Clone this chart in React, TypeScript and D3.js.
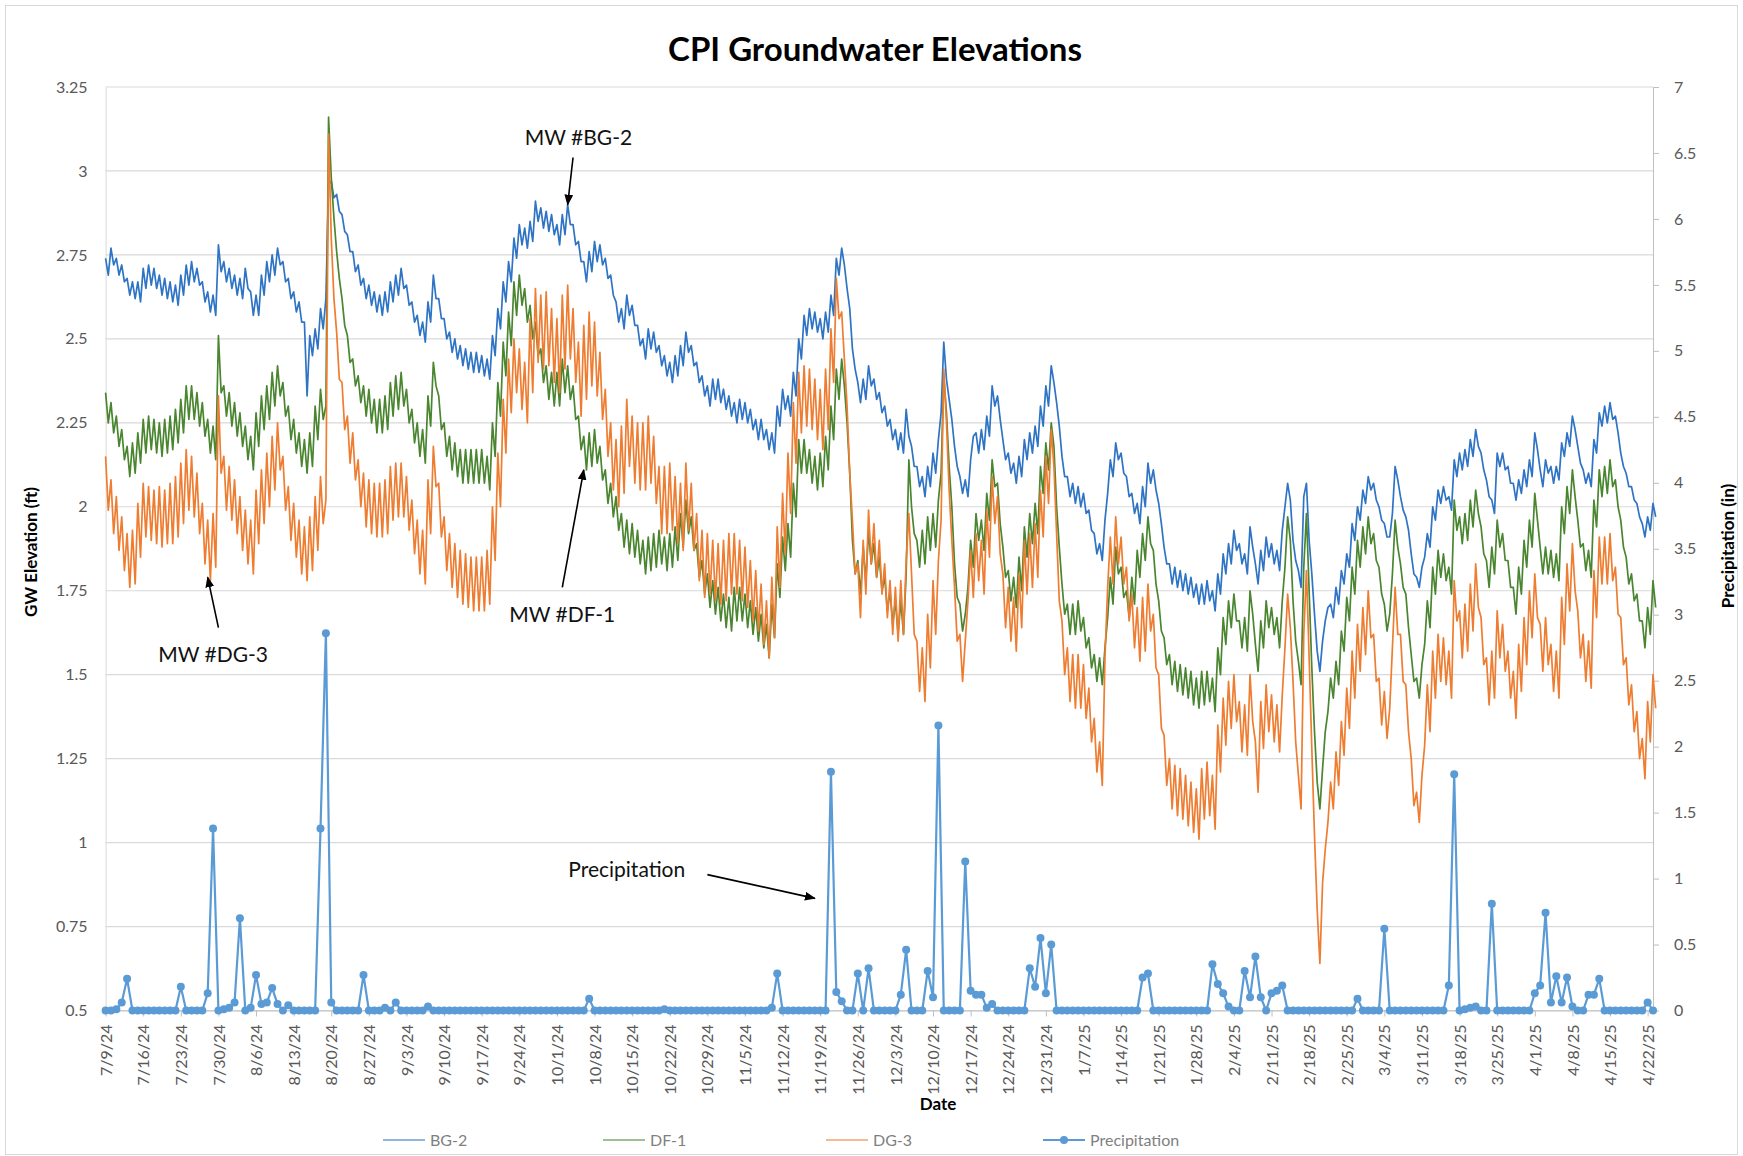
import * as d3 from "d3";
import { useEffect, useRef } from "react";

// chart size
const W = 1743;
const H = 1156;
const font = "Lato, 'Open Sans', sans-serif";

// x axis: one label per week
const tickLabels = [
  "7/9/24", "7/16/24", "7/23/24", "7/30/24", "8/6/24", "8/13/24", "8/20/24", "8/27/24",
  "9/3/24", "9/10/24", "9/17/24", "9/24/24", "10/1/24", "10/8/24", "10/15/24", "10/22/24",
  "10/29/24", "11/5/24", "11/12/24", "11/19/24", "11/26/24", "12/3/24", "12/10/24", "12/17/24",
  "12/24/24", "12/31/24", "1/7/25", "1/14/25", "1/21/25", "1/28/25", "2/4/25", "2/11/25",
  "2/18/25", "2/25/25", "3/4/25", "3/11/25", "3/18/25", "3/25/25", "4/1/25", "4/8/25",
  "4/15/25", "4/22/25",
];
const firstDay = "7/9/24";
const lastDay = "4/23/25";

const leftTicks = [0.5, 0.75, 1, 1.25, 1.5, 1.75, 2, 2.25, 2.5, 2.75, 3, 3.25];
const rightTicks = [0, 0.5, 1, 1.5, 2, 2.5, 3, 3.5, 4, 4.5, 5, 5.5, 6, 6.5, 7];

// daily precipitation (in), from 7/9/24
const precipitation = [
  0, 0, 0.01, 0.06, 0.24, 0, 0,
  0, 0, 0, 0, 0, 0, 0,
  0.18, 0, 0, 0, 0, 0.13, 1.38,
  0, 0.01, 0.02, 0.06, 0.7, 0, 0.02,
  0.27, 0.05, 0.06, 0.17, 0.05, 0, 0.04,
  0, 0, 0, 0, 0, 1.38, 2.86,
  0.06, 0, 0, 0, 0, 0, 0.27,
  0, 0, 0, 0.02, 0, 0.06, 0,
  0, 0, 0, 0, 0.03, 0, 0,
  0, 0, 0, 0, 0, 0, 0,
  0, 0, 0, 0, 0, 0, 0,
  0, 0, 0, 0, 0, 0, 0,
  0, 0, 0, 0, 0, 0, 0.09,
  0, 0, 0, 0, 0, 0, 0,
  0, 0, 0, 0, 0, 0, 0.01,
  0, 0, 0, 0, 0, 0, 0,
  0, 0, 0, 0, 0, 0, 0,
  0, 0, 0, 0, 0, 0.02, 0.28,
  0, 0, 0, 0, 0, 0, 0,
  0, 0, 1.81, 0.14, 0.07, 0, 0,
  0.28, 0, 0.32, 0, 0, 0, 0,
  0, 0.12, 0.46, 0, 0, 0, 0.3,
  0.1, 2.16, 0, 0, 0, 0, 1.13,
  0.15, 0.12, 0.12, 0.02, 0.05, 0, 0,
  0, 0, 0, 0, 0.32, 0.18, 0.55,
  0.13, 0.5, 0, 0, 0, 0, 0,
  0, 0, 0, 0, 0, 0, 0,
  0, 0, 0, 0, 0.25, 0.28, 0,
  0, 0, 0, 0, 0, 0, 0,
  0, 0, 0, 0.35, 0.2, 0.13, 0.03,
  0, 0, 0.3, 0.1, 0.41, 0.1, 0,
  0.13, 0.15, 0.19, 0, 0, 0, 0,
  0, 0, 0, 0, 0, 0, 0,
  0, 0, 0.09, 0, 0, 0, 0,
  0.62, 0, 0, 0, 0, 0, 0,
  0, 0, 0, 0, 0, 0.19, 1.79,
  0, 0.01, 0.02, 0.03, 0, 0, 0.81,
  0, 0, 0, 0, 0, 0, 0,
  0.13, 0.19, 0.74, 0.06, 0.26, 0.06, 0.25,
  0.03, 0, 0, 0.12, 0.12, 0.24, 0,
  0, 0, 0, 0, 0, 0, 0,
  0.06, 0,
];

// 12-hourly groundwater elevations (ft), from 7/9/24 00:00
const bg2 = [
  2.74, 2.69, 2.77, 2.72, 2.74, 2.69, 2.72, 2.67, 2.68, 2.63, 2.67, 2.62, 2.67, 2.61,
  2.71, 2.65, 2.72, 2.66, 2.71, 2.65, 2.69, 2.63, 2.68, 2.62, 2.67, 2.61, 2.66, 2.6,
  2.69, 2.63, 2.72, 2.66, 2.73, 2.67, 2.71, 2.66, 2.67, 2.61, 2.64, 2.58, 2.63, 2.57,
  2.78, 2.7, 2.73, 2.67, 2.71, 2.65, 2.69, 2.63, 2.68, 2.62, 2.71, 2.65, 2.64, 2.57,
  2.63, 2.57, 2.69, 2.63, 2.73, 2.67, 2.75, 2.69, 2.77, 2.72, 2.73, 2.67, 2.68, 2.62,
  2.64, 2.58, 2.61, 2.55, 2.55, 2.33, 2.51, 2.45, 2.53, 2.47, 2.59, 2.53, 2.62, 2.96,
  2.97, 2.92, 2.93, 2.88, 2.87, 2.82, 2.81, 2.76, 2.76, 2.7, 2.72, 2.66, 2.68, 2.62,
  2.66, 2.6, 2.64, 2.58, 2.63, 2.57, 2.64, 2.58, 2.67, 2.61, 2.69, 2.63, 2.71, 2.65,
  2.66, 2.6, 2.61, 2.55, 2.57, 2.51, 2.55, 2.49, 2.61, 2.55, 2.69, 2.62, 2.62, 2.56,
  2.56, 2.5, 2.52, 2.46, 2.5, 2.44, 2.48, 2.42, 2.47, 2.41, 2.46, 2.4, 2.46, 2.4,
  2.45, 2.39, 2.44, 2.38, 2.51, 2.45, 2.59, 2.53, 2.67, 2.61, 2.73, 2.67, 2.8, 2.74,
  2.84, 2.78, 2.83, 2.77, 2.85, 2.79, 2.91, 2.85, 2.89, 2.83, 2.88, 2.82, 2.87, 2.81,
  2.84, 2.78, 2.87, 2.81, 2.9, 2.84, 2.84, 2.78, 2.79, 2.73, 2.73, 2.67, 2.76, 2.7,
  2.79, 2.73, 2.78, 2.72, 2.74, 2.68, 2.69, 2.63, 2.61, 2.55, 2.59, 2.53, 2.63, 2.57,
  2.6, 2.54, 2.54, 2.48, 2.5, 2.44, 2.53, 2.47, 2.52, 2.46, 2.48, 2.42, 2.45, 2.39,
  2.43, 2.37, 2.45, 2.39, 2.48, 2.42, 2.52, 2.46, 2.48, 2.42, 2.43, 2.37, 2.39, 2.33,
  2.36, 2.3, 2.38, 2.32, 2.38, 2.31, 2.35, 2.29, 2.33, 2.27, 2.31, 2.25, 2.32, 2.26,
  2.31, 2.25, 2.29, 2.23, 2.26, 2.2, 2.26, 2.2, 2.23, 2.17, 2.22, 2.16, 2.3, 2.24,
  2.35, 2.29, 2.33, 2.27, 2.4, 2.33, 2.5, 2.44, 2.57, 2.51, 2.59, 2.53, 2.58, 2.52,
  2.56, 2.5, 2.58, 2.52, 2.63, 2.57, 2.74, 2.69, 2.77, 2.72, 2.65, 2.59, 2.47, 2.41,
  2.37, 2.31, 2.38, 2.32, 2.42, 2.36, 2.38, 2.32, 2.34, 2.28, 2.3, 2.24, 2.26, 2.2,
  2.23, 2.17, 2.22, 2.16, 2.29, 2.21, 2.18, 2.12, 2.12, 2.06, 2.09, 2.03, 2.12, 2.06,
  2.16, 2.1, 2.2, 2.28, 2.49, 2.38, 2.32, 2.26, 2.18, 2.12, 2.09, 2.04, 2.08, 2.03,
  2.14, 2.21, 2.22, 2.16, 2.23, 2.17, 2.27, 2.21, 2.36, 2.3, 2.33, 2.26, 2.2, 2.14,
  2.16, 2.1, 2.13, 2.07, 2.15, 2.09, 2.2, 2.14, 2.22, 2.16, 2.24, 2.18, 2.3, 2.24,
  2.36, 2.3, 2.42, 2.37, 2.31, 2.24, 2.15, 2.09, 2.09, 2.03, 2.07, 2.01, 2.06, 2.0,
  2.04, 1.98, 1.99, 1.93, 1.92, 1.86, 1.89, 1.84, 1.96, 2.04, 2.14, 2.09, 2.19, 2.14,
  2.16, 2.1, 2.09, 2.03, 2.04, 1.98, 2.01, 1.95, 2.06, 2.0, 2.13, 2.07, 2.11, 2.05,
  2.01, 1.95, 1.88, 1.83, 1.83, 1.77, 1.82, 1.76, 1.81, 1.75, 1.8, 1.74, 1.79, 1.73,
  1.77, 1.71, 1.77, 1.71, 1.78, 1.72, 1.75, 1.69, 1.8, 1.74, 1.86, 1.8, 1.89, 1.83,
  1.93, 1.87, 1.89, 1.83, 1.86, 1.8, 1.94, 1.88, 1.83, 1.77, 1.87, 1.81, 1.91, 1.85,
  1.89, 1.83, 1.87, 1.81, 1.93, 2.0, 2.07, 2.02, 1.9, 1.84, 1.81, 1.76, 2.03, 2.07,
  1.9, 1.8, 1.68, 1.57, 1.51, 1.6, 1.66, 1.7, 1.71, 1.67, 1.76, 1.71, 1.81, 1.77,
  1.86, 1.82, 1.95, 1.9, 2.0, 1.96, 2.05, 2.01, 2.09, 2.05, 2.07, 2.02, 2.0, 1.96,
  1.95, 1.91, 1.91, 1.98, 2.12, 2.08, 2.03, 1.99, 1.97, 1.93, 1.86, 1.8, 1.79, 1.76,
  1.82, 1.85, 1.92, 1.88, 2.0, 1.96, 2.05, 2.01, 2.06, 2.02, 2.03, 1.99, 2.14, 2.09,
  2.16, 2.11, 2.17, 2.12, 2.2, 2.15, 2.23, 2.18, 2.16, 2.11, 2.08, 2.03, 2.02, 1.98,
  2.16, 2.12, 2.16, 2.11, 2.12, 2.07, 2.07, 2.02, 2.08, 2.04, 2.11, 2.06, 2.14, 2.09,
  2.22, 2.17, 2.11, 2.06, 2.14, 2.1, 2.12, 2.07, 2.12, 2.08, 2.19, 2.15, 2.22, 2.18,
  2.27, 2.23, 2.18, 2.13, 2.11, 2.07, 2.1, 2.06, 2.2, 2.16, 2.28, 2.24, 2.3, 2.25,
  2.31, 2.26, 2.27, 2.22, 2.16, 2.12, 2.1, 2.06, 2.06, 2.02, 2.01, 1.97, 1.95, 1.91,
  1.97, 1.93, 2.01, 1.97,
];

const df1 = [
  2.34, 2.25, 2.31, 2.22, 2.27, 2.18, 2.23, 2.14, 2.18, 2.09, 2.19, 2.1, 2.22, 2.13,
  2.26, 2.16, 2.27, 2.17, 2.26, 2.16, 2.25, 2.15, 2.26, 2.16, 2.27, 2.17, 2.29, 2.19,
  2.32, 2.22, 2.36, 2.26, 2.36, 2.26, 2.34, 2.24, 2.31, 2.21, 2.26, 2.16, 2.24, 2.14,
  2.51, 2.34, 2.36, 2.27, 2.34, 2.24, 2.31, 2.21, 2.28, 2.18, 2.24, 2.14, 2.21, 2.11,
  2.28, 2.18, 2.33, 2.23, 2.36, 2.26, 2.4, 2.3, 2.42, 2.33, 2.37, 2.27, 2.3, 2.2,
  2.26, 2.16, 2.22, 2.12, 2.2, 2.1, 2.22, 2.12, 2.3, 2.2, 2.35, 2.26, 2.3, 3.16,
  2.98, 2.86, 2.76, 2.68, 2.62, 2.54, 2.51, 2.43, 2.44, 2.36, 2.39, 2.31, 2.36, 2.27,
  2.35, 2.25, 2.32, 2.22, 2.32, 2.22, 2.33, 2.23, 2.37, 2.27, 2.39, 2.29, 2.4, 2.3,
  2.35, 2.25, 2.29, 2.19, 2.25, 2.15, 2.23, 2.13, 2.33, 2.24, 2.43, 2.36, 2.33, 2.23,
  2.25, 2.15, 2.21, 2.11, 2.19, 2.09, 2.17, 2.07, 2.17, 2.07, 2.17, 2.07, 2.17, 2.07,
  2.17, 2.07, 2.15, 2.05, 2.25, 2.15, 2.37, 2.27, 2.49, 2.39, 2.58, 2.48, 2.67, 2.57,
  2.69, 2.6, 2.65, 2.55, 2.6, 2.5, 2.55, 2.45, 2.47, 2.37, 2.42, 2.32, 2.4, 2.3,
  2.4, 2.3, 2.44, 2.34, 2.42, 2.32, 2.36, 2.26, 2.27, 2.17, 2.21, 2.11, 2.22, 2.12,
  2.23, 2.13, 2.18, 2.08, 2.11, 2.01, 2.07, 1.97, 2.03, 1.93, 1.98, 1.88, 1.96, 1.86,
  1.95, 1.85, 1.93, 1.83, 1.9, 1.8, 1.91, 1.81, 1.92, 1.82, 1.93, 1.83, 1.91, 1.81,
  1.92, 1.82, 1.94, 1.84, 1.98, 1.88, 2.02, 1.92, 1.97, 1.87, 1.89, 1.79, 1.84, 1.74,
  1.8, 1.7, 1.78, 1.68, 1.76, 1.66, 1.74, 1.64, 1.73, 1.63, 1.76, 1.66, 1.76, 1.66,
  1.74, 1.64, 1.72, 1.62, 1.7, 1.6, 1.68, 1.58, 1.65, 1.55, 1.71, 1.61, 1.83, 1.73,
  1.91, 1.81, 1.95, 1.85, 2.07, 1.97, 2.2, 2.1, 2.2, 2.1, 2.17, 2.07, 2.15, 2.05,
  2.16, 2.06, 2.21, 2.11, 2.3, 2.2, 2.41, 2.32, 2.44, 2.36, 2.25, 2.1, 1.9, 1.8,
  1.84, 1.74, 1.88, 1.78, 1.93, 1.83, 1.89, 1.79, 1.85, 1.75, 1.79, 1.69, 1.75, 1.65,
  1.72, 1.62, 1.72, 1.62, 1.8, 2.14, 2.0, 1.92, 1.9, 1.82, 1.93, 1.83, 1.97, 1.87,
  1.98, 1.88, 2.02, 2.1, 2.39, 2.28, 2.12, 2.0, 1.83, 1.73, 1.71, 1.63, 1.68, 1.76,
  1.9, 1.82, 1.98, 1.9, 1.96, 1.87, 2.04, 1.96, 2.14, 2.06, 2.07, 1.95, 1.88, 1.79,
  1.81, 1.72, 1.79, 1.7, 1.85, 1.75, 1.94, 1.85, 1.98, 1.89, 2.01, 1.92, 2.12, 2.04,
  2.19, 2.11, 2.25, 2.18, 2.0, 1.88, 1.77, 1.68, 1.71, 1.62, 1.71, 1.62, 1.72, 1.63,
  1.67, 1.58, 1.61, 1.52, 1.56, 1.48, 1.55, 1.47, 1.58, 1.67, 1.79, 1.71, 1.88, 1.8,
  1.82, 1.73, 1.75, 1.67, 1.79, 1.71, 1.87, 1.79, 1.92, 1.84, 1.97, 1.89, 1.87, 1.77,
  1.72, 1.63, 1.61, 1.53, 1.56, 1.47, 1.54, 1.45, 1.53, 1.44, 1.52, 1.43, 1.51, 1.41,
  1.49, 1.4, 1.51, 1.41, 1.51, 1.42, 1.49, 1.39, 1.58, 1.5, 1.67, 1.59, 1.72, 1.64,
  1.74, 1.66, 1.66, 1.58, 1.67, 1.57, 1.75, 1.68, 1.59, 1.51, 1.66, 1.58, 1.72, 1.64,
  1.7, 1.62, 1.67, 1.58, 1.72, 1.82, 1.97, 1.9, 1.72, 1.6, 1.54, 1.47, 1.82, 1.98,
  1.75, 1.52, 1.33, 1.18, 1.1, 1.22, 1.33, 1.39, 1.49, 1.43, 1.54, 1.47, 1.63, 1.57,
  1.73, 1.66, 1.82, 1.74, 1.9, 1.82, 1.94, 1.86, 1.97, 1.89, 1.92, 1.84, 1.82, 1.74,
  1.71, 1.63, 1.68, 1.8, 1.96, 1.88, 1.83, 1.76, 1.74, 1.64, 1.56, 1.48, 1.49, 1.43,
  1.53, 1.59, 1.72, 1.64, 1.82, 1.74, 1.87, 1.79, 1.86, 1.78, 1.82, 1.74, 2.02, 1.93,
  1.97, 1.89, 1.98, 1.9, 2.02, 1.94, 2.05, 1.98, 1.94, 1.86, 1.84, 1.76, 1.88, 1.8,
  1.96, 1.88, 1.92, 1.84, 1.84, 1.76, 1.76, 1.68, 1.82, 1.74, 1.9, 1.82, 1.96, 1.88,
  2.04, 1.96, 1.88, 1.8, 1.88, 1.8, 1.87, 1.79, 1.86, 1.78, 2.0, 1.92, 2.06, 1.98,
  2.11, 2.03, 1.96, 1.88, 1.89, 1.81, 1.87, 1.79, 2.02, 1.94, 2.11, 2.03, 2.12, 2.04,
  2.14, 2.06, 2.08, 2.0, 1.96, 1.88, 1.85, 1.77, 1.8, 1.72, 1.74, 1.66, 1.66, 1.58,
  1.7, 1.62, 1.78, 1.7,
];

const dg3 = [
  2.15, 1.99, 2.08, 1.92, 2.03, 1.87, 1.97, 1.81, 1.92, 1.76, 1.93, 1.77, 2.01, 1.85,
  2.07, 1.91, 2.06, 1.9, 2.05, 1.89, 2.06, 1.88, 2.05, 1.89, 2.07, 1.89, 2.09, 1.91,
  2.13, 1.95, 2.17, 1.99, 2.15, 1.97, 2.1, 1.92, 2.01, 1.83, 1.96, 1.78, 1.98, 1.82,
  2.33, 2.1, 2.15, 1.99, 2.12, 1.96, 2.08, 1.92, 2.03, 1.87, 1.99, 1.83, 1.96, 1.8,
  2.05, 1.89, 2.11, 1.95, 2.16, 2.0, 2.21, 2.05, 2.25, 2.11, 2.15, 1.99, 2.06, 1.9,
  2.01, 1.85, 1.96, 1.8, 1.94, 1.78, 1.97, 1.81, 2.03, 1.87, 2.09, 1.95, 2.02, 3.11,
  2.8, 2.62, 2.52, 2.38, 2.37, 2.23, 2.27, 2.13, 2.22, 2.08, 2.14, 2.0, 2.1, 1.94,
  2.08, 1.92, 2.07, 1.91, 2.07, 1.91, 2.08, 1.92, 2.12, 1.96, 2.13, 1.97, 2.13, 1.97,
  2.09, 1.93, 2.02, 1.86, 1.96, 1.8, 1.93, 1.77, 2.08, 1.92, 2.18, 2.06, 2.07, 1.91,
  1.97, 1.81, 1.92, 1.76, 1.89, 1.73, 1.87, 1.71, 1.86, 1.7, 1.85, 1.69, 1.85, 1.69,
  1.85, 1.69, 1.87, 1.71, 2.0, 1.84, 2.16, 2.0, 2.32, 2.16, 2.44, 2.28, 2.5, 2.34,
  2.47, 2.29, 2.43, 2.25, 2.56, 2.34, 2.65, 2.43, 2.63, 2.41, 2.64, 2.42, 2.59, 2.37,
  2.56, 2.34, 2.63, 2.41, 2.66, 2.44, 2.59, 2.37, 2.49, 2.27, 2.54, 2.32, 2.58, 2.36,
  2.55, 2.33, 2.46, 2.26, 2.35, 2.15, 2.25, 2.05, 2.2, 2.0, 2.24, 2.04, 2.32, 2.12,
  2.27, 2.07, 2.25, 2.05, 2.25, 2.05, 2.27, 2.07, 2.21, 2.01, 2.12, 1.92, 2.12, 1.92,
  2.13, 1.93, 2.09, 1.89, 2.07, 1.87, 2.13, 1.93, 2.07, 1.87, 1.98, 1.78, 1.93, 1.73,
  1.92, 1.74, 1.9, 1.72, 1.89, 1.71, 1.9, 1.72, 1.92, 1.74, 1.92, 1.74, 1.9, 1.72,
  1.88, 1.7, 1.84, 1.66, 1.81, 1.63, 1.77, 1.59, 1.72, 1.55, 1.79, 1.61, 1.94, 1.76,
  2.04, 1.86, 2.16, 1.98, 2.31, 2.13, 2.4, 2.22, 2.42, 2.24, 2.41, 2.23, 2.38, 2.2,
  2.35, 2.17, 2.41, 2.23, 2.53, 2.37, 2.68, 2.56, 2.58, 2.44, 2.3, 2.1, 1.96, 1.8,
  1.83, 1.67, 1.9, 1.74, 1.99, 1.83, 1.95, 1.79, 1.9, 1.74, 1.83, 1.67, 1.78, 1.62,
  1.76, 1.6, 1.78, 1.62, 1.84, 1.98, 1.8, 1.62, 1.6, 1.45, 1.58, 1.42, 1.68, 1.52,
  1.78, 1.62, 1.84, 1.96, 2.41, 2.25, 2.05, 1.9, 1.76, 1.6, 1.62, 1.48, 1.6, 1.72,
  1.87, 1.73, 1.92, 1.78, 1.9, 1.74, 1.99, 1.85, 2.09, 1.95, 2.03, 1.86, 1.8, 1.64,
  1.76, 1.6, 1.73, 1.57, 1.8, 1.64, 1.9, 1.74, 1.92, 1.76, 1.95, 1.79, 2.05, 1.91,
  2.15, 2.01, 2.23, 2.12, 1.92, 1.72, 1.66, 1.5, 1.58, 1.42, 1.56, 1.4, 1.56, 1.4,
  1.53, 1.37, 1.46, 1.3, 1.37, 1.21, 1.3, 1.17, 1.55, 1.76, 1.91, 1.77, 1.97, 1.83,
  1.91, 1.77, 1.82, 1.66, 1.74, 1.58, 1.7, 1.54, 1.73, 1.57, 1.77, 1.63, 1.68, 1.52,
  1.5, 1.34, 1.32, 1.17, 1.25, 1.1, 1.23, 1.08, 1.22, 1.07, 1.2, 1.05, 1.18, 1.03,
  1.16, 1.01, 1.22, 1.07, 1.24, 1.08, 1.2, 1.04, 1.35, 1.21, 1.43, 1.29, 1.48, 1.34,
  1.5, 1.36, 1.42, 1.27, 1.41, 1.26, 1.5, 1.36, 1.3, 1.15, 1.42, 1.28, 1.47, 1.33,
  1.44, 1.3, 1.41, 1.27, 1.44, 1.58, 1.74, 1.64, 1.48, 1.3, 1.2, 1.1, 1.62, 1.81,
  1.55, 1.28, 1.02, 0.8, 0.64, 0.88, 0.98, 1.06, 1.18, 1.1, 1.27, 1.17, 1.36, 1.26,
  1.46, 1.34, 1.57, 1.43, 1.65, 1.51, 1.7, 1.56, 1.75, 1.61, 1.62, 1.48, 1.49, 1.35,
  1.45, 1.31, 1.4, 1.58, 1.76, 1.62, 1.62, 1.48, 1.47, 1.33, 1.25, 1.11, 1.15, 1.06,
  1.2, 1.29, 1.47, 1.33, 1.57, 1.43, 1.62, 1.48, 1.61, 1.47, 1.57, 1.43, 1.78, 1.66,
  1.69, 1.55, 1.71, 1.57, 1.77, 1.63, 1.83, 1.7, 1.67, 1.53, 1.55, 1.41, 1.57, 1.43,
  1.69, 1.55, 1.65, 1.51, 1.57, 1.43, 1.51, 1.37, 1.59, 1.45, 1.67, 1.53, 1.75, 1.61,
  1.8, 1.67, 1.65, 1.51, 1.67, 1.53, 1.59, 1.45, 1.57, 1.43, 1.73, 1.59, 1.83, 1.69,
  1.89, 1.75, 1.69, 1.55, 1.62, 1.48, 1.6, 1.46, 1.81, 1.67, 1.91, 1.77, 1.91, 1.77,
  1.92, 1.78, 1.82, 1.68, 1.67, 1.53, 1.55, 1.41, 1.47, 1.33, 1.39, 1.25, 1.31, 1.19,
  1.42, 1.3, 1.5, 1.4,
];

const wells = [
  { name: "BG-2", values: bg2, color: "#2f74c4" },
  { name: "DF-1", values: df1, color: "#4a8530" },
  { name: "DG-3", values: dg3, color: "#ee7d31" },
];
const precipColor = "#5b9bd5";

// callouts, placed in data space: [date, value] for label, arrow tail and tip
const callouts = [
  { text: "MW #BG-2", axis: "gw", label: ["10/5/24", 3.1], tail: ["10/4/24", 3.04], tip: ["10/3/24", 2.9] },
  { text: "MW #DF-1", axis: "gw", label: ["10/2/24", 1.68], tail: ["10/2/24", 1.76], tip: ["10/6/24", 2.11] },
  { text: "MW #DG-3", axis: "gw", label: ["7/29/24", 1.56], tail: ["7/30/24", 1.64], tip: ["7/28/24", 1.79] },
  { text: "Precipitation", axis: "precip", label: ["10/14/24", 1.07], tail: ["10/29/24", 1.03], tip: ["11/18/24", 0.85] },
];

function Chart() {
  const ref = useRef<SVGSVGElement>(null);

  useEffect(() => {
    const svg = d3.select(ref.current);
    svg.selectAll("*").remove();

    const left = 105.6, right = 1653, top = 87, bottom = 1010.5;
    const parse = d3.timeParse("%m/%d/%y");
    const t0 = parse(firstDay) as Date;
    const t1 = parse(lastDay) as Date;

    const x = d3.scaleTime().domain([t0, t1]).range([left, right]);
    const y = d3.scaleLinear().domain([0.5, 3.25]).range([bottom, top]);
    const y2 = d3.scaleLinear().domain([0, 7]).range([bottom, top]);
    const plain = (d: d3.NumberValue) => String(+d);

    svg.append("rect").attr("width", W).attr("height", H).attr("fill", "#fff");
    svg.append("rect")
      .attr("x", 5.5).attr("y", 5.5).attr("width", W - 11).attr("height", H - 7)
      .attr("fill", "none").attr("stroke", "#d9d9d9");

    const defs = svg.append("defs");
    defs.append("marker")
      .attr("id", "arrow").attr("viewBox", "0 0 10 8").attr("refX", 9).attr("refY", 4)
      .attr("markerWidth", 11).attr("markerHeight", 9).attr("markerUnits", "userSpaceOnUse")
      .attr("orient", "auto")
      .append("path").attr("d", "M0,0L10,4L0,8Z").attr("fill", "#000");

    // gridlines
    svg.append("g")
      .selectAll("line").data(leftTicks).join("line")
      .attr("x1", left).attr("x2", right)
      .attr("y1", (d) => y(d)).attr("y2", (d) => y(d))
      .attr("stroke", "#d9d9d9").attr("stroke-width", 1.2);

    // left axis
    const gL = svg.append("g").attr("transform", `translate(${left},0)`)
      .call(d3.axisLeft(y).tickValues(leftTicks).tickSize(0).tickPadding(18).tickFormat(plain));
    gL.select(".domain").attr("stroke", "#d9d9d9");
    gL.selectAll("text").attr("font-family", font).attr("font-size", 16).attr("fill", "#595959");

    // right axis
    const gR = svg.append("g").attr("transform", `translate(${right},0)`)
      .call(d3.axisRight(y2).tickValues(rightTicks).tickSize(6).tickSizeOuter(0).tickPadding(15).tickFormat(plain));
    gR.select(".domain").attr("stroke", "#bfbfbf");
    gR.selectAll(".tick line").attr("stroke", "#bfbfbf");
    gR.selectAll("text").attr("font-family", font).attr("font-size", 16).attr("fill", "#595959");

    // bottom axis
    const tickDates = tickLabels.map((s) => parse(s) as Date);
    const gB = svg.append("g").attr("transform", `translate(0,${bottom})`)
      .call(d3.axisBottom(x).tickValues(tickDates).tickSize(6).tickSizeOuter(0)
        .tickFormat((_, i) => tickLabels[i]));
    gB.select(".domain").attr("stroke", "#bfbfbf");
    gB.selectAll(".tick line").attr("stroke", "#bfbfbf");
    gB.selectAll("text")
      .attr("font-family", font).attr("font-size", 16).attr("fill", "#595959")
      .attr("transform", "rotate(-90)")
      .attr("x", -14).attr("y", 0).attr("dy", "0.35em")
      .attr("text-anchor", "end");

    // groundwater lines, 12-hourly readings
    const stamp = (i: number) => d3.timeHour.offset(t0, i * 12);
    const gwLine = d3.line<number>()
      .x((_, i) => x(stamp(i)))
      .y((d) => y(d));

    wells.forEach((w) => {
      svg.append("path")
        .datum(w.values)
        .attr("d", gwLine)
        .attr("fill", "none")
        .attr("stroke", w.color)
        .attr("stroke-width", 1.7)
        .attr("stroke-linejoin", "round");
    });

    // precipitation on the secondary axis
    const day = (i: number) => d3.timeDay.offset(t0, i);
    const rainLine = d3.line<number>()
      .x((_, i) => x(day(i)))
      .y((d) => y2(d));
    svg.append("path")
      .datum(precipitation)
      .attr("d", rainLine)
      .attr("fill", "none")
      .attr("stroke", precipColor)
      .attr("stroke-width", 2.2)
      .attr("stroke-linejoin", "round");
    svg.append("g")
      .selectAll("circle").data(precipitation).join("circle")
      .attr("cx", (_, i) => x(day(i)))
      .attr("cy", (d) => y2(d))
      .attr("r", 4)
      .attr("fill", precipColor);

    // callouts
    callouts.forEach((c) => {
      const sy = c.axis === "gw" ? y : y2;
      const px = (p: (string | number)[]) => x(parse(p[0] as string) as Date);
      const py = (p: (string | number)[]) => sy(p[1] as number);
      svg.append("line")
        .attr("x1", px(c.tail)).attr("y1", py(c.tail))
        .attr("x2", px(c.tip)).attr("y2", py(c.tip))
        .attr("stroke", "#000").attr("stroke-width", 1.6)
        .attr("marker-end", "url(#arrow)");
      svg.append("text")
        .attr("x", px(c.label)).attr("y", py(c.label))
        .attr("dy", "0.35em").attr("text-anchor", "middle")
        .attr("font-family", font).attr("font-size", 21).attr("fill", "#111")
        .text(c.text);
    });

    // titles
    svg.append("text")
      .attr("x", 875).attr("y", 61).attr("text-anchor", "middle")
      .attr("font-family", font).attr("font-size", 33).attr("font-weight", 700).attr("fill", "#000")
      .text("CPI Groundwater Elevations");
    svg.append("text")
      .attr("transform", `translate(31,552) rotate(-90)`).attr("text-anchor", "middle")
      .attr("dy", "0.35em")
      .attr("font-family", font).attr("font-size", 17).attr("font-weight", 700).attr("fill", "#000")
      .text("GW Elevation (ft)");
    svg.append("text")
      .attr("transform", `translate(1728,546) rotate(-90)`).attr("text-anchor", "middle")
      .attr("dy", "0.35em")
      .attr("font-family", font).attr("font-size", 17).attr("font-weight", 700).attr("fill", "#000")
      .text("Precipitation (in)");
    svg.append("text")
      .attr("x", 938).attr("y", 1104).attr("text-anchor", "middle").attr("dy", "0.35em")
      .attr("font-family", font).attr("font-size", 17).attr("font-weight", 700).attr("fill", "#000")
      .text("Date");

    // legend
    const legendItems = [
      { name: "BG-2", color: wells[0].color, x: 383, marker: false },
      { name: "DF-1", color: wells[1].color, x: 603, marker: false },
      { name: "DG-3", color: wells[2].color, x: 826, marker: false },
      { name: "Precipitation", color: precipColor, x: 1043, marker: true },
    ];
    const ly = 1140;
    const lg = svg.append("g");
    legendItems.forEach((it) => {
      lg.append("line")
        .attr("x1", it.x).attr("x2", it.x + 42).attr("y1", ly).attr("y2", ly)
        .attr("stroke", it.color).attr("stroke-width", it.marker ? 2 : 1.5).attr("opacity", it.marker ? 1 : 0.7);
      if (it.marker) {
        lg.append("circle").attr("cx", it.x + 21).attr("cy", ly).attr("r", 4).attr("fill", it.color);
      }
      lg.append("text")
        .attr("x", it.x + 47).attr("y", ly).attr("dy", "0.35em")
        .attr("font-family", font).attr("font-size", 16).attr("fill", "#7f7f7f")
        .text(it.name);
    });
  }, []);

  return (
    <svg
      ref={ref}
      width={W}
      height={H}
      style={{ position: "absolute", left: 0, top: 0 }}
    />
  );
}

export default function App() {
  return <Chart />;
}
